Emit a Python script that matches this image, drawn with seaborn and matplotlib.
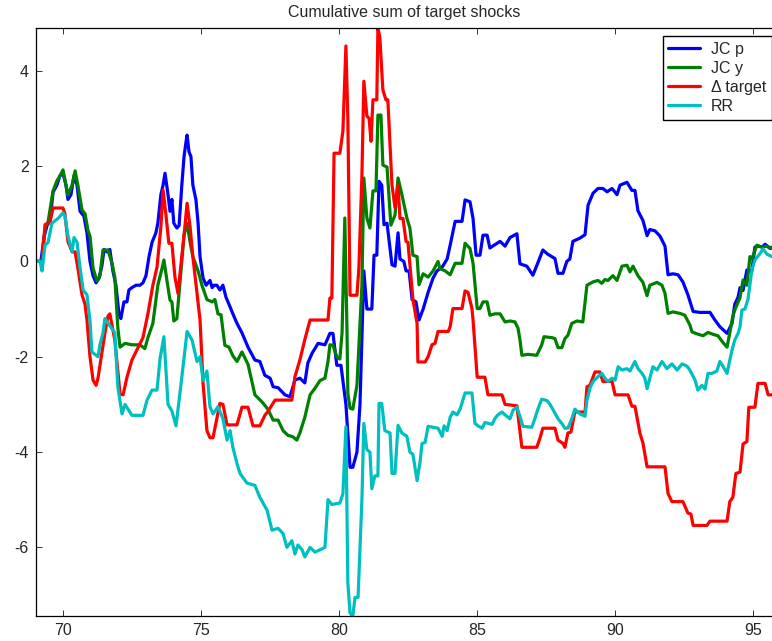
import numpy as np
import pandas as pd
import matplotlib
matplotlib.use("Agg")
import matplotlib.pyplot as plt
import seaborn as sns

# Cumulative sums of the four target-shock measures (x in years, 19xx)
jcp_year = [69.00, 69.19, 69.30, 69.41, 69.52, 69.63, 69.77, 69.88, 69.99, 70.10, 70.17, 70.28,
            70.39, 70.50, 70.61, 70.75, 70.86, 70.97, 71.08, 71.19, 71.30, 71.40, 71.48, 71.59,
            71.69, 71.80, 71.91, 72.02, 72.09, 72.20, 72.31, 72.38, 72.49, 72.64, 72.78, 72.89,
            73.00, 73.11, 73.22, 73.36, 73.43, 73.54, 73.62, 73.69, 73.80, 73.87, 73.94, 74.01,
            74.12, 74.20, 74.30, 74.38, 74.45, 74.49, 74.56, 74.63, 74.70, 74.81, 74.89, 74.96,
            75.07, 75.18, 75.25, 75.32, 75.40, 75.47, 75.57, 75.68, 75.79, 75.90, 76.01, 76.15,
            76.30, 76.48, 76.70, 76.95, 77.13, 77.31, 77.50, 77.61, 77.79, 78.04, 78.22, 78.40,
            78.58, 78.76, 78.87, 79.02, 79.24, 79.49, 79.67, 79.78, 79.92, 80.07, 80.25, 80.40,
            80.50, 80.65, 80.76, 80.90, 81.01, 81.19, 81.27, 81.37, 81.45, 81.55, 81.63, 81.74,
            81.92, 82.03, 82.14, 82.21, 82.35, 82.43, 82.54, 82.65, 82.79, 82.90, 83.05, 83.23,
            83.41, 83.55, 83.74, 83.92, 84.03, 84.21, 84.46, 84.57, 84.75, 84.86, 84.97, 85.11,
            85.22, 85.37, 85.47, 85.65, 85.84, 86.02, 86.20, 86.45, 86.56, 86.81, 87.03, 87.21,
            87.39, 87.57, 87.83, 87.94, 88.12, 88.26, 88.37, 88.48, 88.74, 88.92, 89.03, 89.21,
            89.39, 89.57, 89.72, 89.90, 90.08, 90.19, 90.44, 90.62, 90.73, 90.84, 91.02, 91.17,
            91.27, 91.46, 91.64, 91.82, 91.93, 92.11, 92.29, 92.47, 92.65, 92.84, 93.09, 93.45,
            93.63, 93.81, 94.07, 94.25, 94.35, 94.47, 94.54, 94.65, 94.79, 94.97, 95.08, 95.19,
            95.34, 95.45, 95.63, 95.70]
jcp_value = [0.0, 0.0, 0.5, 0.75, 0.85, 1.45, 1.6, 1.8, 1.85, 1.6, 1.3, 1.4,
             1.8, 1.6, 1.05, 0.95, 0.6, 0.0, -0.3, -0.45, -0.35, -0.1, 0.25, 0.2,
             0.25, -0.2, -0.5, -1.1, -1.2, -0.85, -0.85, -0.6, -0.55, -0.5, -0.5, -0.45,
             -0.3, 0.1, 0.4, 0.6, 0.8, 1.4, 1.6, 1.85, 1.4, 1.05, 1.3, 0.8,
             0.7, 0.75, 1.6, 2.2, 2.5, 2.65, 2.3, 2.2, 1.6, 1.3, 0.8, 0.1,
             -0.35, -0.5, -0.45, -0.4, -0.55, -0.5, -0.5, -0.6, -0.5, -0.75, -0.9, -1.1,
             -1.3, -1.5, -1.8, -2.07, -2.1, -2.39, -2.45, -2.63, -2.65, -2.8, -2.84, -2.49,
             -2.45, -2.55, -2.13, -1.93, -1.72, -1.75, -1.51, -1.51, -2.18, -2.18, -3.0, -4.32,
             -4.32, -4.0, -3.0, -0.2, -1.0, -1.0, 0.13, 0.13, 1.68, 1.6, 0.77, 0.8,
             -0.07, -0.1, 0.6, 0.05, 0.0, -0.2, -0.2, -0.8, -0.85, -1.23, -1.0, -0.65,
             -0.35, -0.2, -0.12, 0.05, 0.34, 0.84, 0.84, 1.29, 1.25, 0.9, 0.13, 0.13,
             0.55, 0.55, 0.28, 0.35, 0.42, 0.32, 0.5, 0.58, -0.05, -0.1, -0.29, -0.03,
             0.24, 0.15, 0.06, -0.25, -0.25, 0.0, 0.05, 0.42, 0.49, 0.56, 1.18, 1.43,
             1.53, 1.53, 1.46, 1.53, 1.4, 1.6, 1.66, 1.49, 1.49, 1.06, 0.86, 0.54,
             0.67, 0.64, 0.53, 0.32, -0.28, -0.26, -0.28, -0.43, -0.7, -1.05, -1.07, -1.07,
             -1.23, -1.37, -1.51, -1.3, -0.9, -0.75, -0.55, -0.61, -0.18, -0.2, 0.3, 0.32,
             0.3, 0.36, 0.27, 0.3]

jcy_year = [69.00, 69.23, 69.34, 69.45, 69.63, 69.77, 69.88, 69.99, 70.17, 70.32, 70.43, 70.53,
            70.68, 70.79, 70.90, 70.97, 71.08, 71.22, 71.33, 71.44, 71.62, 71.77, 71.87, 71.98,
            72.06, 72.24, 72.49, 72.78, 72.96, 73.07, 73.25, 73.43, 73.58, 73.65, 73.76, 73.87,
            73.94, 74.01, 74.12, 74.30, 74.38, 74.49, 74.60, 74.70, 74.89, 75.03, 75.21, 75.40,
            75.50, 75.61, 75.72, 75.86, 76.01, 76.15, 76.30, 76.48, 76.70, 76.95, 77.21, 77.42,
            77.61, 77.79, 77.97, 78.15, 78.33, 78.47, 78.58, 78.76, 78.95, 79.13, 79.31, 79.49,
            79.60, 79.67, 79.78, 79.92, 80.03, 80.11, 80.21, 80.29, 80.32, 80.40, 80.50, 80.65,
            80.72, 80.83, 80.90, 81.01, 81.12, 81.23, 81.34, 81.41, 81.52, 81.59, 81.74, 81.88,
            82.03, 82.14, 82.28, 82.46, 82.57, 82.68, 82.83, 82.90, 83.05, 83.23, 83.41, 83.59,
            83.66, 83.85, 84.03, 84.21, 84.46, 84.57, 84.75, 84.86, 85.01, 85.11, 85.22, 85.37,
            85.47, 85.65, 85.84, 86.02, 86.20, 86.38, 86.49, 86.56, 86.63, 86.85, 87.17, 87.35,
            87.43, 87.72, 87.83, 87.94, 88.08, 88.19, 88.30, 88.44, 88.63, 88.84, 88.99, 89.21,
            89.39, 89.53, 89.64, 89.75, 89.93, 90.08, 90.26, 90.44, 90.55, 90.66, 90.84, 91.02,
            91.17, 91.27, 91.53, 91.71, 91.82, 91.93, 92.11, 92.36, 92.54, 92.72, 92.80, 92.98,
            93.20, 93.38, 93.56, 93.74, 93.92, 94.07, 94.17, 94.28, 94.35, 94.54, 94.65, 94.79,
            94.90, 94.97, 95.15, 95.34, 95.52, 95.70]
jcy_value = [0.0, 0.0, 0.7, 0.83, 1.48, 1.69, 1.79, 1.92, 1.39, 1.6, 1.9, 1.6,
             1.08, 1.0, 0.64, 0.53, -0.14, -0.41, -0.3, 0.24, 0.24, -0.04, -0.33, -1.4,
             -1.8, -1.72, -1.75, -1.75, -1.83, -1.6, -1.3, -0.5, -0.15, 0.03, -0.4, -0.81,
             -0.85, -1.25, -1.2, 0.0, 0.55, 0.8, 0.4, 0.1, -0.2, -0.5, -0.8, -0.85,
             -0.8, -1.1, -1.12, -1.76, -1.8, -1.98, -2.1, -1.9, -2.16, -2.8, -2.95, -3.1,
             -3.33, -3.33, -3.55, -3.65, -3.68, -3.75, -3.6, -3.27, -2.8, -2.66, -2.5, -2.45,
             -2.1, -1.75, -1.76, -2.0, -2.05, -1.5, 0.91, -1.5, -2.77, -3.08, -3.1, -2.6,
             -1.8, -0.5, 1.75, 0.91, 0.7, 1.48, 1.48, 3.07, 3.07, 2.02, 1.98, 0.76,
             0.97, 1.75, 1.4, 0.91, 0.7, 0.13, 0.1, -0.49, -0.26, -0.33, -0.2, 0.0,
             -0.15, -0.2, -0.28, -0.04, -0.04, 0.38, 0.27, -0.04, -0.99, -0.99, -0.85, -0.85,
             -1.13, -1.1, -1.1, -1.27, -1.25, -1.27, -1.4, -1.64, -1.97, -1.95, -1.97, -1.75,
             -1.58, -1.6, -1.62, -1.81, -1.81, -1.62, -1.55, -1.3, -1.25, -1.27, -0.5, -0.43,
             -0.4, -0.46, -0.38, -0.4, -0.3, -0.4, -0.1, -0.08, -0.22, -0.1, -0.3, -0.44,
             -0.72, -0.5, -0.44, -0.5, -0.67, -1.09, -1.06, -1.09, -1.13, -1.33, -1.48, -1.52,
             -1.56, -1.49, -1.53, -1.56, -1.7, -1.8, -1.5, -1.15, -1.02, -0.76, -0.39, -0.5,
             0.1, 0.05, 0.34, 0.3, 0.32, 0.27]

dtarget_year = [69.00, 69.23, 69.34, 69.52, 69.63, 69.99, 70.06, 70.17, 70.32, 70.43, 70.53, 70.68,
                70.79, 70.86, 70.97, 71.08, 71.19, 71.26, 71.40, 71.51, 71.62, 71.69, 71.87, 72.06,
                72.17, 72.31, 72.49, 72.67, 72.89, 73.07, 73.25, 73.40, 73.54, 73.62, 73.72, 73.83,
                73.94, 74.05, 74.16, 74.30, 74.41, 74.49, 74.60, 74.70, 74.85, 74.96, 75.07, 75.21,
                75.32, 75.43, 75.57, 75.68, 75.79, 75.94, 76.30, 76.48, 76.70, 76.88, 77.13, 77.31,
                77.42, 77.68, 78.29, 78.40, 78.58, 78.76, 78.95, 79.60, 79.67, 79.74, 79.82, 80.03,
                80.14, 80.25, 80.32, 80.40, 80.65, 80.72, 80.83, 80.90, 81.01, 81.09, 81.16, 81.23,
                81.37, 81.41, 81.48, 81.59, 81.70, 81.77, 81.92, 82.03, 82.14, 82.21, 82.32, 82.43,
                82.50, 82.61, 82.68, 82.83, 82.86, 83.12, 83.23, 83.37, 83.48, 83.59, 83.96, 84.03,
                84.13, 84.46, 84.57, 84.68, 84.82, 84.86, 85.01, 85.29, 85.40, 85.91, 86.02, 86.45,
                86.63, 87.17, 87.28, 87.39, 87.83, 87.94, 88.12, 88.19, 88.30, 88.41, 88.55, 88.92,
                88.99, 89.10, 89.28, 89.46, 89.57, 89.90, 90.01, 90.48, 90.62, 90.73, 90.91, 91.02,
                91.17, 91.82, 91.93, 92.07, 92.47, 92.65, 92.76, 92.84, 93.34, 93.45, 94.07, 94.17,
                94.28, 94.39, 94.54, 94.65, 94.79, 94.86, 95.08, 95.19, 95.45, 95.56, 95.70]
dtarget_value = [0.0, 0.0, 0.77, 0.83, 1.12, 1.12, 1.0, 0.42, 0.2, 0.2, -0.14, -0.7,
                 -0.9, -1.23, -2.0, -2.49, -2.6, -2.45, -1.93, -1.51, -1.15, -1.1, -1.65, -2.78,
                 -2.8, -2.43, -2.07, -1.86, -1.6, -1.1, -0.5, -0.12, 0.72, 1.5, 1.0, 0.38,
                 0.38, -0.33, -0.67, 0.1, 0.72, 1.22, 0.72, 0.1, -0.67, -1.23, -2.56, -3.55,
                 -3.7, -3.7, -3.3, -2.98, -3.0, -3.43, -3.43, -3.06, -3.06, -3.45, -3.45, -3.23,
                 -3.15, -2.91, -2.91, -2.42, -2.07, -1.64, -1.23, -1.23, -0.77, -0.77, 2.27, 2.27,
                 2.73, 4.52, 3.0, -0.71, -0.71, -0.14, 1.8, 3.78, 3.05, 3.0, 2.52, 3.39,
                 3.39, 4.89, 4.7, 3.6, 3.39, 3.39, 1.6, 1.13, 1.6, 0.9, 0.9, 0.42,
                 0.4, -0.35, -0.8, -1.3, -2.11, -2.11, -2.0, -1.75, -1.72, -1.47, -1.47, -1.37,
                 -0.99, -0.99, -0.62, -0.65, -0.99, -1.23, -2.43, -2.43, -2.8, -2.8, -3.0, -3.03,
                 -3.9, -3.9, -3.72, -3.5, -3.5, -3.75, -3.82, -3.9, -3.6, -3.58, -3.16, -3.16,
                 -2.63, -2.6, -2.32, -2.32, -2.52, -2.52, -2.8, -2.8, -3.04, -3.04, -3.6, -3.81,
                 -4.31, -4.31, -4.87, -5.04, -5.04, -5.28, -5.3, -5.54, -5.54, -5.45, -5.45, -5.04,
                 -4.95, -4.45, -4.42, -3.83, -3.78, -3.06, -3.06, -2.56, -2.56, -2.8, -2.8]

rr_year = [69.00, 69.16, 69.23, 69.34, 69.45, 69.59, 69.70, 69.81, 69.99, 70.06, 70.17, 70.32,
           70.39, 70.50, 70.61, 70.72, 70.86, 70.97, 71.04, 71.26, 71.33, 71.44, 71.51, 71.69,
           71.87, 71.98, 72.13, 72.24, 72.49, 72.89, 73.04, 73.22, 73.40, 73.51, 73.65, 73.80,
           73.94, 74.09, 74.30, 74.49, 74.67, 74.85, 74.96, 75.07, 75.21, 75.32, 75.43, 75.61,
           75.79, 75.94, 76.05, 76.15, 76.30, 76.41, 76.66, 76.95, 77.13, 77.39, 77.57, 77.79,
           77.97, 78.11, 78.29, 78.40, 78.51, 78.66, 78.76, 78.95, 79.13, 79.31, 79.49, 79.60,
           79.74, 80.03, 80.14, 80.25, 80.32, 80.40, 80.50, 80.58, 80.69, 80.83, 80.90, 81.01,
           81.12, 81.19, 81.30, 81.41, 81.45, 81.55, 81.66, 81.85, 81.92, 82.03, 82.14, 82.28,
           82.46, 82.57, 82.68, 82.83, 82.94, 83.01, 83.12, 83.23, 83.59, 83.74, 83.81, 83.92,
           84.03, 84.13, 84.28, 84.39, 84.57, 84.82, 84.93, 85.04, 85.19, 85.29, 85.55, 85.65,
           85.76, 85.91, 86.02, 86.20, 86.31, 86.45, 86.56, 86.67, 86.99, 87.10, 87.21, 87.35,
           87.54, 87.65, 87.75, 87.94, 88.08, 88.19, 88.30, 88.44, 88.55, 88.74, 88.92, 88.99,
           89.10, 89.21, 89.39, 89.53, 89.64, 89.75, 89.90, 90.01, 90.12, 90.26, 90.44, 90.55,
           90.73, 90.84, 90.99, 91.09, 91.17, 91.27, 91.38, 91.53, 91.71, 91.89, 92.07, 92.26,
           92.44, 92.62, 92.72, 92.91, 93.01, 93.16, 93.27, 93.38, 93.52, 93.70, 93.81, 93.92,
           94.07, 94.17, 94.25, 94.35, 94.47, 94.54, 94.61, 94.72, 94.83, 94.97, 95.08, 95.26,
           95.37, 95.52, 95.70]
rr_value = [0.0, 0.0, -0.2, 0.34, 0.4, 0.8, 0.85, 0.9, 1.02, 0.95, 0.54, 0.2,
            0.5, 0.4, -0.14, -0.6, -0.7, -1.25, -1.9, -2.0, -1.75, -1.5, -1.2, -1.35,
            -1.5, -2.63, -3.2, -3.0, -3.23, -3.23, -2.91, -2.7, -2.7, -2.04, -1.58, -3.0,
            -3.14, -3.45, -2.43, -1.47, -1.65, -2.1, -2.0, -2.5, -2.3, -3.05, -3.2, -3.05,
            -3.3, -3.75, -3.55, -3.9, -4.24, -4.45, -4.65, -4.7, -4.95, -5.22, -5.64, -5.6,
            -5.71, -6.0, -5.86, -6.14, -5.95, -6.05, -6.2, -6.0, -6.1, -6.05, -6.0, -5.0,
            -5.1, -5.07, -4.88, -3.47, -6.75, -7.38, -7.44, -7.05, -7.05, -5.0, -3.4, -3.95,
            -4.0, -4.77, -4.5, -4.5, -2.98, -2.98, -3.55, -3.6, -4.45, -4.45, -3.44, -3.6,
            -3.67, -4.0, -4.05, -4.6, -4.2, -3.82, -3.8, -3.46, -3.5, -3.67, -3.45, -3.55,
            -3.27, -3.16, -3.22, -3.1, -2.76, -2.76, -3.4, -3.45, -3.5, -3.38, -3.42, -3.3,
            -3.22, -3.16, -3.22, -3.3, -3.12, -3.06, -3.25, -3.46, -3.48, -3.3, -3.1, -2.89,
            -2.92, -3.0, -3.1, -3.3, -3.4, -3.5, -3.5, -3.3, -3.1, -3.2, -3.25, -2.91,
            -2.66, -2.52, -2.42, -2.35, -2.45, -2.52, -2.45, -2.49, -2.21, -2.28, -2.25, -2.3,
            -2.1, -2.25, -2.35, -2.45, -2.67, -2.45, -2.21, -2.28, -2.1, -2.25, -2.15, -2.28,
            -2.15, -2.2, -2.28, -2.49, -2.7, -2.6, -2.68, -2.35, -2.35, -2.3, -2.1, -2.2,
            -2.35, -2.07, -1.86, -1.65, -1.51, -1.37, -1.02, -1.0, -0.79, -0.18, 0.03, 0.16,
            0.26, 0.15, 0.1]

series_names = ["JC p", "JC y", "\u0394 target", "RR"]
series_colors = ["#0000ff", "#008000", "#ff0000", "#00bfbf"]

frames = []
for name, xs, ys in zip(series_names,
                        [jcp_year, jcy_year, dtarget_year, rr_year],
                        [jcp_value, jcy_value, dtarget_value, rr_value]):
    frames.append(pd.DataFrame({"year": xs, "value": ys, "series": name}))
df = pd.concat(frames, ignore_index=True)

sns.set_style("ticks")
plt.rcParams["font.family"] = ["Liberation Sans", "DejaVu Sans"]

fig = plt.figure(figsize=(7.72, 6.41), dpi=100)
ax = fig.add_axes([0.0462, 0.039, 0.9538, 0.9168])

sns.lineplot(data=df, x="year", y="value", hue="series", hue_order=series_names,
             palette=series_colors, estimator=None, sort=False, linewidth=2.3, ax=ax)

ax.set_xlim(69.0, 95.7)
ax.set_ylim(-7.44, 4.89)
ax.set_xticks([70, 75, 80, 85, 90, 95])
ax.set_xticklabels(["70", "75", "80", "85", "90", "95"])
ax.set_yticks([-6, -4, -2, 0, 2, 4])
ax.set_yticklabels(["-6", "-4", "-2", "0", "2", "4"])
ax.set_xlabel("")
ax.set_ylabel("")
ax.set_title("Cumulative sum of target shocks", fontsize=11.5, pad=8)

for side in ["left", "bottom", "top"]:
    ax.spines[side].set_visible(True)
    ax.spines[side].set_linewidth(0.9)
    ax.spines[side].set_color("black")
ax.spines["right"].set_visible(False)
ax.tick_params(axis="both", direction="in", length=4.3, width=0.7, labelsize=11.5,
               top=True, right=False, color="#333333")
ax.tick_params(axis="x", pad=5)
ax.tick_params(axis="y", pad=5)

leg = ax.legend(loc="upper right", bbox_to_anchor=(0.9995, 0.987), fontsize=11.5,
                frameon=True, fancybox=False, edgecolor="black", framealpha=1,
                handlelength=2.0, handletextpad=0.65, labelspacing=0.26,
                borderpad=0.35, borderaxespad=0.0)
leg.get_frame().set_linewidth(1.0)
for line in leg.get_lines():
    line.set_linewidth(2.3)

fig.savefig("out.png", dpi=100)
